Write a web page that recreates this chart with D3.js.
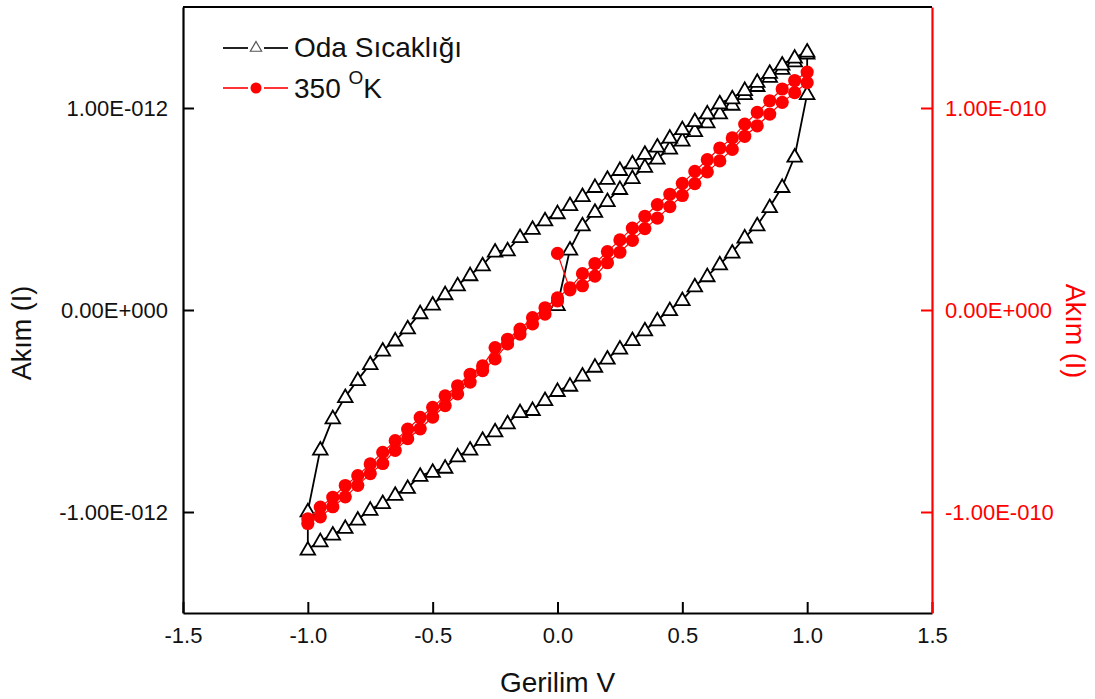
<!DOCTYPE html>
<html>
<head>
<meta charset="utf-8">
<script src="https://cdn.jsdelivr.net/npm/d3@7"></script>
<style>
  body { margin: 0; background: #fff; }
  svg { font-family: "Liberation Sans", Arial, sans-serif; }
</style>
</head>
<body>
<svg id="chart" width="1095" height="699"></svg>
<script>
// voltage grid (V), one point every 0.05 V
var volts = [-1.0, -0.95, -0.9, -0.85, -0.8, -0.75, -0.7, -0.65, -0.6, -0.55, -0.5,
    -0.45, -0.4, -0.35, -0.3, -0.25, -0.2, -0.15, -0.1, -0.05, 0.0,
    0.05, 0.1, 0.15, 0.2, 0.25, 0.3, 0.35, 0.4, 0.45, 0.5,
    0.55, 0.6, 0.65, 0.7, 0.75, 0.8, 0.85, 0.9, 0.95, 1.0];

// Oda Sicakligi (room temp), current in units of 1e-12 A
var roomFirst = [0.025, 0.30, 0.42, 0.487, 0.54, 0.60, 0.654, 0.71, 0.75, 0.80, 0.84,
    0.887, 0.93, 0.974, 1.017, 1.07, 1.11, 1.155, 1.195, 1.232, 1.27];   // 0 -> 1 V
var roomLower = [-1.185, -1.144, -1.111, -1.078, -1.037, -0.988, -0.955, -0.914, -0.88, -0.82, -0.80,
    -0.78, -0.724, -0.69, -0.642, -0.60, -0.56, -0.505, -0.494, -0.445, -0.40,
    -0.374, -0.324, -0.28, -0.24, -0.19, -0.148, -0.10, -0.05, 0.0, 0.05,
    0.118, 0.168, 0.227, 0.285, 0.36, 0.42, 0.51, 0.61, 0.76, 1.07];
var roomUpper = [-0.996, -0.69, -0.535, -0.43, -0.346, -0.267, -0.20, -0.15, -0.09, -0.015, 0.028,
    0.079, 0.123, 0.173, 0.222, 0.29, 0.296, 0.362, 0.403, 0.445, 0.48,
    0.52, 0.565, 0.61, 0.65, 0.694, 0.727, 0.774, 0.81, 0.854, 0.896,
    0.936, 0.974, 1.024, 1.049, 1.09, 1.13, 1.175, 1.216, 1.25, 1.28];

// 350 K, current in units of 1e-10 A
var hotStart = [0.0, 0.28];
var hotUpper = [-1.034, -0.976, -0.927, -0.869, -0.82, -0.762, -0.705, -0.647, -0.59, -0.532, -0.482,
    -0.425, -0.375, -0.318, -0.277, -0.186, -0.145, -0.095, -0.038, 0.011, 0.06,
    0.11, 0.18, 0.23, 0.289, 0.347, 0.405, 0.464, 0.522, 0.573, 0.627,
    0.686, 0.744, 0.802, 0.852, 0.92, 0.978, 1.036, 1.094, 1.136, 1.178];
var hotLower = [-1.057, -1.024, -0.974, -0.925, -0.868, -0.81, -0.76, -0.695, -0.637, -0.588, -0.53,
    -0.473, -0.415, -0.357, -0.30, -0.242, -0.168, -0.119, -0.069, -0.02, 0.045,
    0.10, 0.12, 0.168, 0.234, 0.286, 0.345, 0.403, 0.455, 0.512, 0.567,
    0.626, 0.684, 0.738, 0.795, 0.86, 0.912, 0.97, 1.028, 1.076, 1.126];

var xTicks = [-1.5, -1.0, -0.5, 0.0, 0.5, 1.0, 1.5];
var leftTicks = [-1e-12, 0, 1e-12];
var rightTicks = [-1e-10, 0, 1e-10];

var seriesNames = ["Oda Sıcaklığı", "350 "];

// build measurement order
var zeroIdx = volts.indexOf(0);
var room = [];
for (var i = zeroIdx; i < volts.length; i++) room.push([volts[i], roomFirst[i - zeroIdx] * 1e-12]);
for (var i = volts.length - 1; i >= 0; i--) room.push([volts[i], roomLower[i] * 1e-12]);
for (var i = 0; i < volts.length; i++) room.push([volts[i], roomUpper[i] * 1e-12]);

var hot = [[hotStart[0], hotStart[1] * 1e-10]];
for (var i = zeroIdx + 1; i < volts.length; i++) hot.push([volts[i], hotLower[i] * 1e-10]);
for (var i = volts.length - 1; i >= 0; i--) hot.push([volts[i], hotUpper[i] * 1e-10]);
for (var i = 0; i <= zeroIdx; i++) hot.push([volts[i], hotLower[i] * 1e-10]);

function originFmt(v) {
    var s = d3.format(".2e")(v).replace("−", "-");
    var parts = s.split("e");
    var exp = +parts[1].replace("−", "-");
    var sign = exp < 0 ? "-" : "+";
    return parts[0] + "E" + sign + d3.format("03d")(Math.abs(exp));
}
function voltFmt(v) {
    return d3.format(".1f")(v).replace("−", "-");
}

var svg = d3.select("#chart"),
    plotL = 183, plotR = 932, plotT = 7, plotB = 613;

var x = d3.scaleLinear().domain([-1.5, 1.5]).range([plotL, plotR]);
var yL = d3.scaleLinear().domain([-1.5e-12, 1.5e-12]).range([plotB, plotT]);
var yR = d3.scaleLinear().domain([-1.5e-10, 1.5e-10]).range([plotB, plotT]);

var red = "#ff0000";
var fs = 22;

// axes
svg.append("g")
    .attr("transform", "translate(0," + plotB + ")")
    .call(d3.axisBottom(x).tickValues(xTicks).tickSizeInner(-11).tickSizeOuter(0).tickPadding(14)
        .tickFormat(voltFmt))
    .call(function(g) {
        g.select(".domain").attr("stroke-width", 2.2);
        g.selectAll(".tick line").attr("stroke-width", 2);
        g.selectAll("text").attr("font-size", fs).attr("fill", "#111").attr("font-family", null);
    });

svg.append("g")
    .attr("transform", "translate(" + plotL + ",0)")
    .call(d3.axisLeft(yL).tickValues(leftTicks).tickSizeInner(-11).tickSizeOuter(0).tickPadding(15)
        .tickFormat(originFmt))
    .call(function(g) {
        g.select(".domain").attr("stroke-width", 2.2);
        g.selectAll(".tick line").attr("stroke-width", 2);
        g.selectAll("text").attr("font-size", fs).attr("fill", "#111").attr("font-family", null);
    });

svg.append("g")
    .attr("transform", "translate(" + plotR + ",0)")
    .call(d3.axisRight(yR).tickValues(rightTicks).tickSizeInner(-11).tickSizeOuter(0).tickPadding(13)
        .tickFormat(originFmt))
    .call(function(g) {
        g.select(".domain").attr("stroke", red).attr("stroke-width", 2.2);
        g.selectAll(".tick line").attr("stroke", red).attr("stroke-width", 2);
        g.selectAll("text").attr("font-size", fs).attr("fill", red).attr("font-family", null);
    });

// top frame line
svg.append("line")
    .attr("x1", plotL).attr("x2", plotR).attr("y1", plotT).attr("y2", plotT)
    .attr("stroke", "#000").attr("stroke-width", 2.2);

// axis titles
var tfs = 27;
svg.append("text")
    .attr("x", (plotL + plotR) / 2).attr("y", 692)
    .attr("text-anchor", "middle").attr("font-size", tfs + 1).attr("fill", "#111")
    .text("Gerilim V");

svg.append("text")
    .attr("transform", "translate(31," + 333 + ") rotate(-90)")
    .attr("text-anchor", "middle").attr("font-size", tfs).attr("fill", "#111")
    .text("Akım (I)");

svg.append("text")
    .attr("transform", "translate(1066," + 331 + ") rotate(90)")
    .attr("text-anchor", "middle").attr("font-size", tfs).attr("fill", red)
    .text("Akım (I)");

// room temperature series
var lineL = d3.line().x(function(d) { return x(d[0]); }).y(function(d) { return yL(d[1]); });
var lineR = d3.line().x(function(d) { return x(d[0]); }).y(function(d) { return yR(d[1]); });

svg.append("path")
    .datum(room)
    .attr("d", lineL)
    .attr("fill", "none").attr("stroke", "#000").attr("stroke-width", 1.8);

var tri = d3.symbol().type(d3.symbolTriangle).size(92);

svg.selectAll(".tri")
    .data(room)
    .enter().append("path")
    .attr("class", "tri")
    .attr("d", tri)
    .attr("transform", function(d) { return "translate(" + x(d[0]) + "," + (yL(d[1]) + 1) + ")"; })
    .attr("fill", "#fff").attr("stroke", "#000").attr("stroke-width", 1.8);

// 350 K series
svg.append("path")
    .datum(hot)
    .attr("d", lineR)
    .attr("fill", "none").attr("stroke", red).attr("stroke-width", 1.2);

svg.selectAll(".dot")
    .data(hot)
    .enter().append("circle")
    .attr("class", "dot")
    .attr("cx", function(d) { return x(d[0]); })
    .attr("cy", function(d) { return yR(d[1]); })
    .attr("r", 6.6)
    .attr("fill", red);

// legend
var lg = svg.append("g");
lg.append("line").attr("x1", 223).attr("x2", 248).attr("y1", 48).attr("y2", 48)
    .attr("stroke", "#222").attr("stroke-width", 2);
lg.append("line").attr("x1", 264).attr("x2", 288).attr("y1", 48).attr("y2", 48)
    .attr("stroke", "#222").attr("stroke-width", 2);
lg.append("path").attr("d", d3.symbol().type(d3.symbolTriangle).size(55))
    .attr("transform", "translate(256,48)")
    .attr("fill", "#fff").attr("stroke", "#555").attr("stroke-width", 1.2);
lg.append("text").attr("x", 294).attr("y", 57).attr("font-size", tfs + 1).attr("fill", "#111")
    .text(seriesNames[0]);

lg.append("line").attr("x1", 223).attr("x2", 248).attr("y1", 88).attr("y2", 88)
    .attr("stroke", red).attr("stroke-width", 1.6);
lg.append("line").attr("x1", 264).attr("x2", 288).attr("y1", 88).attr("y2", 88)
    .attr("stroke", red).attr("stroke-width", 1.6);
lg.append("circle").attr("cx", 256).attr("cy", 88).attr("r", 5.5).attr("fill", red);
var t2 = lg.append("text").attr("x", 294).attr("y", 98).attr("font-size", tfs + 1).attr("fill", "#111");
t2.append("tspan").text(seriesNames[1]);
t2.append("tspan").attr("dy", -14).attr("font-size", 19).text("O");
t2.append("tspan").attr("dy", 14).text("K");
</script>
</body>
</html>
